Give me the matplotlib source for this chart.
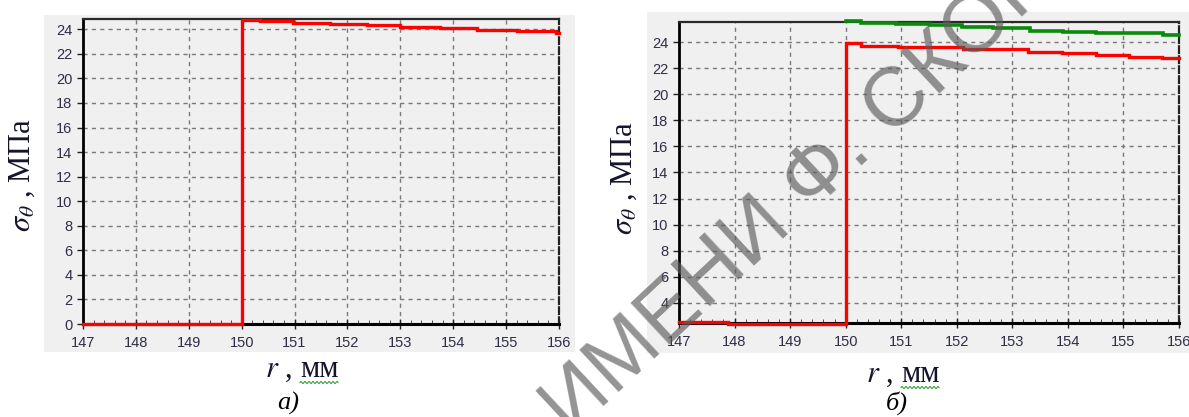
import matplotlib
matplotlib.use('Agg')
import matplotlib.pyplot as plt
import numpy as np
from matplotlib.ticker import MultipleLocator
from matplotlib.patches import Rectangle

plt.rcParams['font.family'] = ['Liberation Sans', 'DejaVu Sans']
plt.rcParams['mathtext.fontset'] = 'stix'

# ---------------- data ----------------
x_ticks = [147, 148, 149, 150, 151, 152, 153, 154, 155, 156]
x_tick_labels = [str(v) for v in x_ticks]
yticks_a = [0, 2, 4, 6, 8, 10, 12, 14, 16, 18, 20, 22, 24]
yticks_b = [4, 6, 8, 10, 12, 14, 16, 18, 20, 22, 24]

# panel a) – red stepped curve
r_a_red = [147, 150, 150.35, 150.97, 151.67, 152.37, 153.0, 153.75, 154.45, 155.2, 155.95, 156]
s_a_red = [0.0, 24.79, 24.67, 24.55, 24.42, 24.32, 24.22, 24.10, 23.98, 23.86, 23.74, 23.74]

# panel б) – red and green stepped curves
r_b_red = [147, 147.88, 150, 150.27, 150.94, 152.12, 153.28, 153.9, 154.5, 155.1, 155.7, 156]
s_b_red = [2.54, 2.40, 23.92, 23.74, 23.62, 23.46, 23.28, 23.16, 23.02, 22.90, 22.77, 22.77]
r_b_green = [150, 150.27, 150.9, 151.52, 152.1, 152.65, 153.32, 153.91, 154.5, 155.08, 155.71, 156]
s_b_green = [25.61, 25.46, 25.38, 25.30, 25.20, 25.07, 24.90, 24.78, 24.74, 24.68, 24.58, 24.58]

ylim_a = (0, 24.84)
ylim_b = (2.44, 25.56)

W, H = 1189, 417
fig = plt.figure(figsize=(W / 100, H / 100), dpi=100)
fig.patch.set_facecolor('white')

def fx(px):
    return px / W

def fy(py):
    return 1 - py / H

# grey panels behind each chart
for (x0, y0, x1, y1) in [(44, 15, 575, 352), (647, 12, 1189, 353)]:
    fig.add_artist(Rectangle((fx(x0), fy(y1)), fx(x1) - fx(x0), fy(y0) - fy(y1),
                             transform=fig.transFigure, facecolor='#f0f0f0',
                             edgecolor='none', zorder=-5))

ax_a = fig.add_axes([fx(83), fy(324), fx(559) - fx(83), fy(19) - fy(324)])
ax_b = fig.add_axes([fx(679), fy(323), fx(1179) - fx(679), fy(22) - fy(323)])

tick_col = '#2e2e48'

def style(ax, ylim, yticks):
    ax.set_facecolor('#f0f0f0')
    ax.set_xlim(147, 156)
    ax.set_ylim(*ylim)
    ax.set_xticks(x_ticks)
    ax.set_xticklabels(x_tick_labels)
    ax.set_yticks(yticks)
    ax.xaxis.set_minor_locator(MultipleLocator(0.2))
    ax.set_axisbelow(True)
    ax.grid(True, which='major', color='#7a7a7a', linestyle=(0, (3, 3)), linewidth=1.0)
    ax.tick_params(axis='both', which='major', labelsize=10.5, labelcolor=tick_col,
                   color='#222222', width=1)
    ax.tick_params(axis='y', which='major', direction='out', length=4, pad=3.5)
    ax.tick_params(axis='x', which='major', direction='inout', length=7, pad=5)
    ax.tick_params(axis='x', which='minor', direction='in', length=3, color='#333333')
    ax.spines['left'].set_color('black')
    ax.spines['left'].set_linewidth(2.0)
    ax.spines['bottom'].set_color('black')
    ax.spines['bottom'].set_linewidth(2.2)
    ax.spines['top'].set_color('#2a2a2a')
    ax.spines['top'].set_linewidth(1.6)
    ax.spines['right'].set_color('#222222')
    ax.spines['right'].set_linewidth(1.6)
    ax.spines['right'].set_linestyle((0, (3, 1.5)))

style(ax_a, ylim_a, yticks_a)
style(ax_b, ylim_b, yticks_b)

ax_a.plot(r_a_red, s_a_red, drawstyle='steps-post', color='#ff0000', lw=2.4,
          clip_on=False, zorder=5, solid_joinstyle='miter')
ax_b.plot(r_b_green, s_b_green, drawstyle='steps-post', color='#0a8a0a', lw=2.6,
          clip_on=False, zorder=5, solid_joinstyle='miter')
ax_b.plot(r_b_red, s_b_red, drawstyle='steps-post', color='#ff0000', lw=2.4,
          clip_on=False, zorder=6, solid_joinstyle='miter')

# axis titles (Times-like)
lab_col = '#14142c'
serif = ['Liberation Serif', 'DejaVu Serif']
for xc, yc in [(22, 175), (624, 178)]:
    fig.text(fx(xc), fy(yc), r'$\sigma_\theta$ , МПа', rotation=90, ha='center', va='center',
             fontsize=22, family=serif, color=lab_col)

mm_texts = []
for xr, xm, yb in [(292, 300, 377), (893, 901, 382)]:
    fig.text(fx(xr), fy(yb), r'$r$ ,', ha='right', va='baseline', fontsize=22,
             family=serif, color=lab_col)
    mm_texts.append(fig.text(fx(xm), fy(yb), 'мм', ha='left', va='baseline', fontsize=22,
                             family=serif, color=lab_col))

for xc, cap in [(288, 'а)'), (897, 'б)')]:
    fig.text(fx(xc), fy(410), cap, ha='center', va='baseline', fontsize=19,
             family=serif, style='italic', color='black')

# watermark (cut by the image edges, as in the reference)
fig.text(fx(570), fy(437), 'ИМЕНИ Ф. СКОРИНЫ', rotation=43, rotation_mode='anchor',
         ha='left', va='baseline', fontsize=60, family=['Liberation Sans', 'DejaVu Sans'],
         color='#5a5a5a', alpha=0.65, zorder=20)

# green spell-check wavy underline under "мм"
fig.canvas.draw()
renderer = fig.canvas.get_renderer()
for t in mm_texts:
    bb = t.get_window_extent(renderer)
    xs = np.arange(bb.x0, bb.x1, 0.5)
    ys = bb.y0 + 1.5 + 1.0 * np.sin((xs - bb.x0) / 4.0 * 2 * np.pi)
    fig.add_artist(plt.Line2D(xs / W, ys / H, transform=fig.transFigure,
                              color='#3aa03a', lw=0.8))

fig.savefig('out.png', dpi=100, facecolor='white')
